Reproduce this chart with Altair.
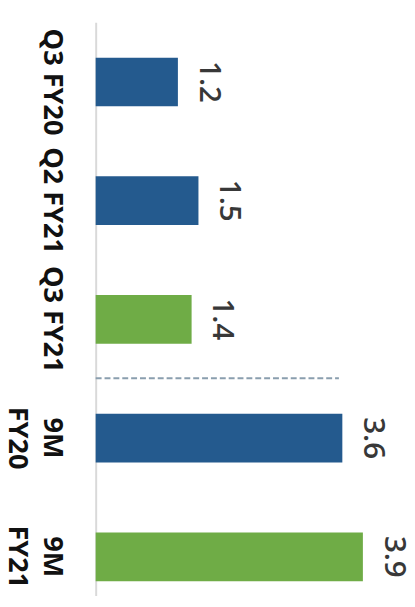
import altair as alt
import pandas as pd

categories = ["Q3 FY20", "Q2 FY21", "Q3 FY21", "9M FY20", "9M FY21"]
values = [1.2, 1.5, 1.4, 3.6, 3.9]
series = ["Prior", "Prior", "Current", "Prior", "Current"]
series_names = ["Prior", "Current"]
series_colors = ["#245a8e", "#6fac46"]

divider_category = "9M FY20"
divider_from = 0.0
divider_to = 3.55

df = pd.DataFrame({"cat": categories, "value": values, "series": series})
div = pd.DataFrame({"cat": [divider_category], "x0": [divider_from], "x1": [divider_to]})

yscale = alt.Scale(domain=categories, paddingInner=0.59, paddingOuter=0.21, align=0.71)
xscale = alt.Scale(domain=[0, 4.4], nice=False, zero=True)

yaxis = alt.Axis(
    title=None, ticks=False, tickSize=0, domainColor="#d9d9d9", domainWidth=2,
    labelAngle=90, labelAlign="center", labelBaseline="top",
    labelFontSize=27.5, labelFontWeight="bold", labelColor="#111111", labelFont="Open Sans",
    labelPadding=31, labelLineHeight=36, labelOverlap=False, labelBound=False,
    labelExpr="indexof(datum.label, '9M') == 0 ? split(datum.label, ' ') : datum.label",
)

bars = alt.Chart(df).mark_bar().encode(
    y=alt.Y("cat:N", scale=yscale, axis=yaxis, sort=categories),
    x=alt.X("value:Q", scale=xscale, axis=None),
    color=alt.Color("series:N", scale=alt.Scale(domain=series_names, range=series_colors), legend=None),
)

labels = alt.Chart(df).mark_text(
    angle=90, align="center", baseline="alphabetic", dy=-22,
    fontSize=30, font="Open Sans", fontWeight=600, color="#383838",
).encode(
    y=alt.Y("cat:N", sort=categories),
    x=alt.X("value:Q"),
    text=alt.Text("value:Q", format=".1f"),
)

rule = alt.Chart(div).mark_rule(strokeDash=[6, 3], strokeWidth=2, color="#8a9eae").encode(
    y=alt.Y("cat:N", bandPosition=0, sort=categories),
    yOffset=alt.value(-36),
    x=alt.X("x0:Q"),
    x2="x1:Q",
)

chart = alt.layer(bars, rule, labels).properties(
    width=306, height=582,
    autosize=alt.AutoSizeParams(type="none"),
    padding={"left": 89, "top": 10, "right": 10, "bottom": 0},
).configure_view(stroke=None)

chart.save("out.html", embed_options={"renderer": "svg", "actions": False})
